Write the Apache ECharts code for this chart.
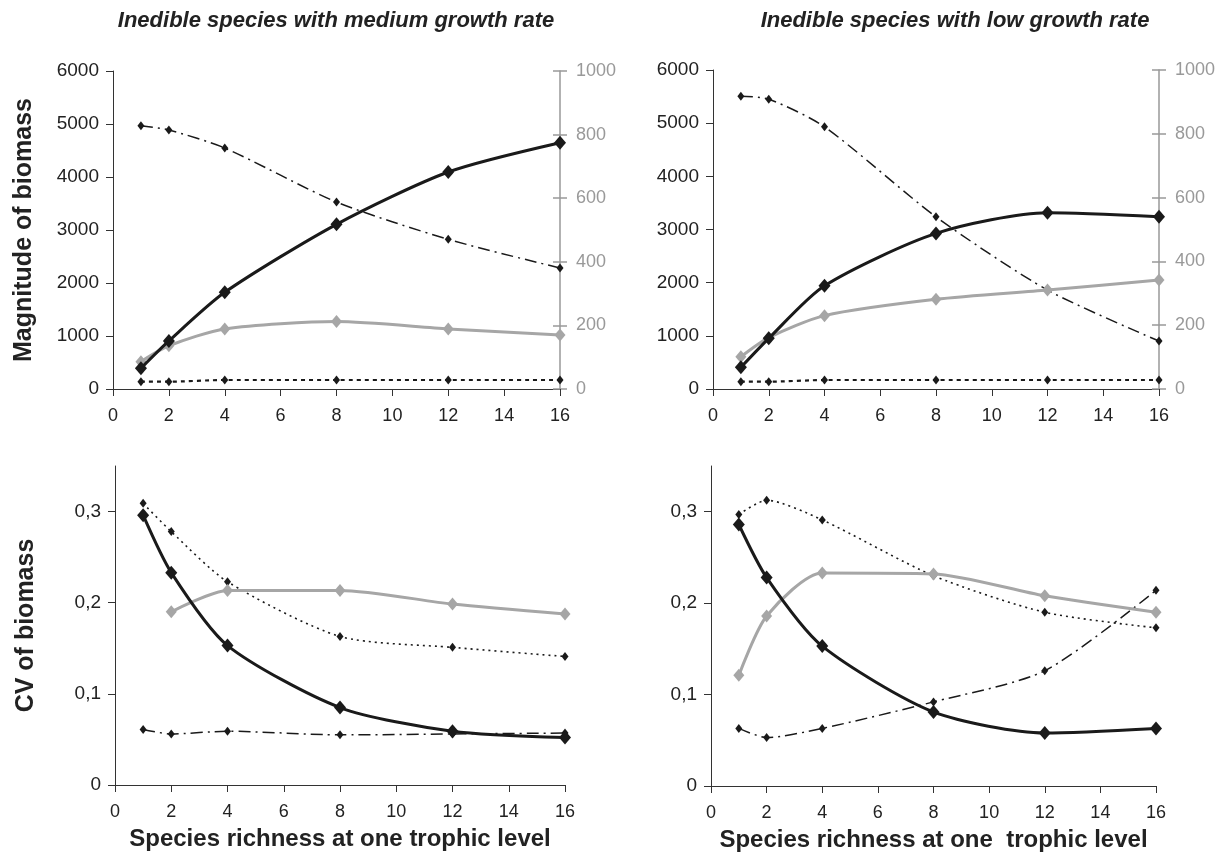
<!DOCTYPE html>
<html>
<head>
<meta charset="utf-8">
<script src="https://cdn.jsdelivr.net/npm/echarts@6/dist/echarts.min.js"></script>
<style>
  html, body { margin: 0; padding: 0; background: #fff; }
  #main { width: 1226px; height: 858px; }
</style>
</head>
<body>
<div id="main"></div>
<script>
// species richness at one trophic level (x values)
const richness = [1, 2, 4, 8, 12, 16];

// top row: magnitude of biomass
const medSolid   = [390, 906, 1824, 3107, 4094, 4647];
const medGray    = [86, 136, 189, 212, 189, 170];      // right (gray) axis
const medDotted  = [138, 138, 170, 170, 170, 170];
const medDashDot = [4968, 4887, 4547, 3528, 2824, 2283];

const lowSolid   = [408, 953, 1942, 2927, 3314, 3239];
const lowGray    = [101, 161, 230, 281, 310, 342];     // right (gray) axis
const lowDotted  = [137, 137, 169, 169, 169, 169];
const lowDashDot = [5508, 5451, 4931, 3239, 1861, 902];

// bottom row: CV of biomass
const cvMedSolid   = [0.296, 0.233, 0.153, 0.085, 0.059, 0.052];
const cvMedGray    = [null, 0.190, 0.2135, 0.2135, 0.1985, 0.1875];
const cvMedDotted  = [0.309, 0.278, 0.223, 0.163, 0.151, 0.141];
const cvMedDashDot = [0.061, 0.056, 0.059, 0.055, 0.056, 0.057];

const cvLowSolid   = [0.286, 0.228, 0.153, 0.081, 0.058, 0.063];
const cvLowGray    = [0.121, 0.186, 0.233, 0.232, 0.208, 0.190];
const cvLowDotted  = [0.297, 0.3125, 0.291, 0.230, 0.190, 0.173];
const cvLowDashDot = [0.063, 0.053, 0.063, 0.092, 0.126, 0.214];

const leftTicks = [0, 1000, 2000, 3000, 4000, 5000, 6000];
const cvTicks   = [0, 0.1, 0.2, 0.3];

const FONT = 'Liberation Sans, Arial, Helvetica, sans-serif';
const INK = '#1a1a1a';
const GRAY = '#a6a6a6';
const AXIS_GRAY = '#999999';

const chart = echarts.init(document.getElementById('main'));

function pairs(ys) {
  return richness.map((x, i) => [x, ys[i]]).filter(p => p[1] != null);
}

const plain = v => String(v);
const cvFmt = v => (v === 0 ? '0' : v.toFixed(1).replace('.', ','));

function xAxis(gi, name) {
  return {
    type: 'value', gridIndex: gi, min: 0, max: 16, interval: 2,
    axisLine: { lineStyle: { color: '#333', width: 1 } },
    axisTick: { length: 7, lineStyle: { color: '#333' } },
    axisLabel: { fontSize: 18, color: '#222', fontFamily: FONT, margin: 18 },
    splitLine: { show: false },
    name: name || '',
    nameLocation: 'middle',
    nameGap: 42,
    nameTextStyle: { fontSize: 24, fontWeight: 'bold', color: '#222', fontFamily: FONT }
  };
}

function leftAxis(gi, name, max, interval, ticks, fmt) {
  return {
    type: 'value', gridIndex: gi, position: 'left', min: 0, max: max, interval: interval,
    axisLine: { show: true, lineStyle: { color: '#333', width: 1 } },
    axisTick: { show: true, length: 7, customValues: ticks, lineStyle: { color: '#333' } },
    axisLabel: { fontSize: 19, color: '#222', fontFamily: FONT, margin: 14,
      customValues: ticks, formatter: fmt },
    splitLine: { show: false },
    name: name || '',
    nameLocation: 'middle',
    nameGap: 76,
    nameTextStyle: { fontSize: 25, fontWeight: 'bold', color: '#222', fontFamily: FONT }
  };
}

function rightAxis(gi) {
  return {
    type: 'value', gridIndex: gi, position: 'right', min: 0, max: 1000, interval: 200,
    axisLine: { show: true, lineStyle: { color: AXIS_GRAY, width: 1.5 } },
    axisTick: { show: true, length: 7, lineStyle: { color: AXIS_GRAY, width: 1.5 } },
    axisLabel: { fontSize: 18, color: AXIS_GRAY, fontFamily: FONT, margin: 16, formatter: plain },
    splitLine: { show: false }
  };
}

// inner half of the crossing ticks on the gray axis
function rightInnerTicks(gi) {
  return {
    type: 'value', gridIndex: gi, position: 'right', min: 0, max: 1000, interval: 200,
    axisLine: { show: false },
    axisTick: { show: true, inside: true, length: 7, lineStyle: { color: AXIS_GRAY, width: 1.5 } },
    axisLabel: { show: false },
    splitLine: { show: false }
  };
}

const styles = {
  solid:   { line: { color: INK, width: 3 }, size: [12, 14], color: INK },
  gray:    { line: { color: GRAY, width: 3 }, size: [11, 13], color: GRAY },
  dotted:  { line: { color: INK, width: 2.2, type: [4, 4] }, size: [7, 9], color: INK },
  dotFine: { line: { color: INK, width: 1.6, type: [2, 4] }, size: [7, 9], color: INK },
  dashDot: { line: { color: INK, width: 1.5, type: [12, 5, 2, 5] }, size: [7, 9], color: INK }
};

function line(name, xi, yi, ys, kind) {
  const s = styles[kind];
  return {
    name: name, type: 'line', xAxisIndex: xi, yAxisIndex: yi,
    data: pairs(ys), smooth: 0.25,
    symbol: 'diamond', symbolSize: s.size,
    lineStyle: s.line, itemStyle: { color: s.color },
    z: kind === 'solid' ? 4 : 3
  };
}

const titleStyle = {
  fontSize: 22, fontWeight: 'bold', fontStyle: 'italic', fontFamily: FONT,
  fill: '#222', align: 'center', verticalAlign: 'middle'
};

const option = {
  backgroundColor: '#fff',
  animation: false,
  grid: [
    { left: 113, top: 71, width: 447, height: 318 },
    { left: 713, top: 70, width: 446, height: 319 },
    { left: 115, top: 466, width: 450, height: 319 },
    { left: 711, top: 466, width: 445, height: 320 }
  ],
  xAxis: [
    xAxis(0), xAxis(1),
    xAxis(2, 'Species richness at one trophic level'),
    xAxis(3, 'Species richness at one  trophic level')
  ],
  yAxis: [
    leftAxis(0, 'Magnitude of biomass', 6000, 1000, leftTicks, plain),
    rightAxis(0), rightInnerTicks(0),
    leftAxis(1, '', 6000, 1000, leftTicks, plain),
    rightAxis(1), rightInnerTicks(1),
    leftAxis(2, 'CV of biomass', 0.35, 0.1, cvTicks, cvFmt),
    leftAxis(3, '', 0.35, 0.1, cvTicks, cvFmt)
  ],
  graphic: [
    { type: 'text', x: 336, y: 21,
      style: Object.assign({ text: 'Inedible species with medium growth rate' }, titleStyle) },
    { type: 'text', x: 955, y: 21,
      style: Object.assign({ text: 'Inedible species with low growth rate' }, titleStyle) }
  ],
  series: [
    line('medium dotted', 0, 0, medDotted, 'dotted'),
    line('medium dash-dot', 0, 0, medDashDot, 'dashDot'),
    line('medium gray', 0, 1, medGray, 'gray'),
    line('medium solid', 0, 0, medSolid, 'solid'),

    line('low dotted', 1, 3, lowDotted, 'dotted'),
    line('low dash-dot', 1, 3, lowDashDot, 'dashDot'),
    line('low gray', 1, 4, lowGray, 'gray'),
    line('low solid', 1, 3, lowSolid, 'solid'),

    line('cv medium dotted', 2, 6, cvMedDotted, 'dotFine'),
    line('cv medium dash-dot', 2, 6, cvMedDashDot, 'dashDot'),
    line('cv medium gray', 2, 6, cvMedGray, 'gray'),
    line('cv medium solid', 2, 6, cvMedSolid, 'solid'),

    line('cv low dotted', 3, 7, cvLowDotted, 'dotFine'),
    line('cv low dash-dot', 3, 7, cvLowDashDot, 'dashDot'),
    line('cv low gray', 3, 7, cvLowGray, 'gray'),
    line('cv low solid', 3, 7, cvLowSolid, 'solid')
  ]
};

chart.setOption(option);
</script>
</body>
</html>
